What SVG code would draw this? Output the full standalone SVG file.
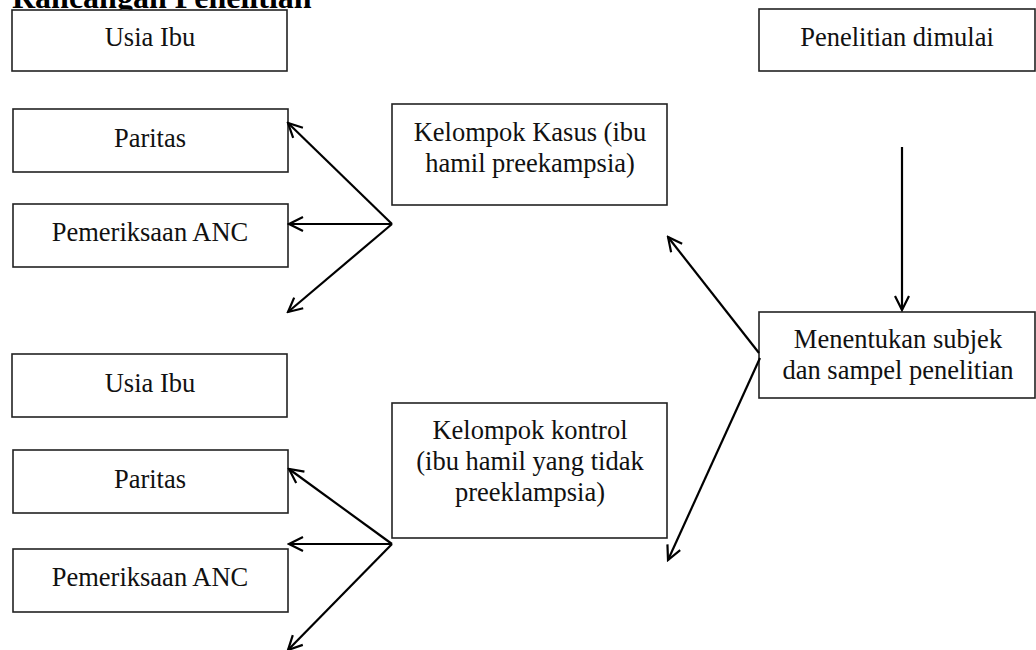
<svg xmlns="http://www.w3.org/2000/svg" width="1036" height="650" viewBox="0 0 1036 650">
<style>
.box{fill:#fff;stroke:#222;stroke-width:1.6}
.t{font-family:"Liberation Serif","Times New Roman",serif;font-size:26.5px;fill:#111;text-anchor:middle}
.title{font-family:"Liberation Serif","Times New Roman",serif;font-size:32px;font-weight:bold;fill:#000}
.c{stroke:#000;stroke-width:2.2;fill:none}
</style>
<defs>
<marker id="ah" markerUnits="userSpaceOnUse" viewBox="0 0 18 18" refX="16" refY="9" markerWidth="18" markerHeight="18" orient="auto">
<path d="M2,2 L16,9 L2,16" fill="none" stroke="#000" stroke-width="2.2"/>
</marker>
</defs>
<rect width="1036" height="650" fill="#fff"/>
<text class="title" x="12" y="8">Rancangan Penelitian</text>
<g id="usia1"><rect class="box" x="12" y="10" width="275" height="61"/><text class="t" x="150" y="46">Usia Ibu</text></g>
<g id="paritas1"><rect class="box" x="13" y="109" width="275" height="63"/><text class="t" x="150" y="147">Paritas</text></g>
<g id="anc1"><rect class="box" x="13" y="204" width="275" height="63"/><text class="t" x="150" y="241">Pemeriksaan ANC</text></g>
<g id="kasus"><rect class="box" x="392" y="104" width="275" height="101"/><text class="t" x="530" y="141">Kelompok Kasus (ibu</text><text class="t" x="530" y="172">hamil preekampsia)</text></g>
<g id="mulai"><rect class="box" x="759" y="9" width="276" height="62"/><text class="t" x="897" y="46">Penelitian dimulai</text></g>
<g id="menentukan"><rect class="box" x="759" y="312" width="276" height="86"/><text class="t" x="898" y="348">Menentukan subjek</text><text class="t" x="898" y="379">dan sampel penelitian</text></g>
<g id="usia2"><rect class="box" x="12" y="354" width="275" height="63"/><text class="t" x="150" y="392">Usia Ibu</text></g>
<g id="paritas2"><rect class="box" x="13" y="450" width="275" height="63"/><text class="t" x="150" y="488">Paritas</text></g>
<g id="anc2"><rect class="box" x="13" y="549" width="275" height="63"/><text class="t" x="150" y="586">Pemeriksaan ANC</text></g>
<g id="kontrol"><rect class="box" x="392" y="403" width="275" height="135"/><text class="t" x="530" y="439">Kelompok kontrol</text><text class="t" x="530" y="470">(ibu hamil yang tidak</text><text class="t" x="530" y="501">preeklampsia)</text></g>
<g id="connectors">
<line class="c" x1="902" y1="147" x2="902" y2="310" marker-end="url(#ah)"/>
<line class="c" x1="759" y1="353" x2="668" y2="237" marker-end="url(#ah)"/>
<line class="c" x1="760" y1="358" x2="668" y2="560" marker-end="url(#ah)"/>
<line class="c" x1="392" y1="224" x2="288" y2="123" marker-end="url(#ah)"/>
<line class="c" x1="392" y1="224" x2="289" y2="224" marker-end="url(#ah)"/>
<line class="c" x1="392" y1="224" x2="288" y2="312" marker-end="url(#ah)"/>
<line class="c" x1="392" y1="544" x2="289" y2="469" marker-end="url(#ah)"/>
<line class="c" x1="392" y1="544" x2="289" y2="544" marker-end="url(#ah)"/>
<line class="c" x1="392" y1="544" x2="288" y2="650" marker-end="url(#ah)"/>
</g>
</svg>
